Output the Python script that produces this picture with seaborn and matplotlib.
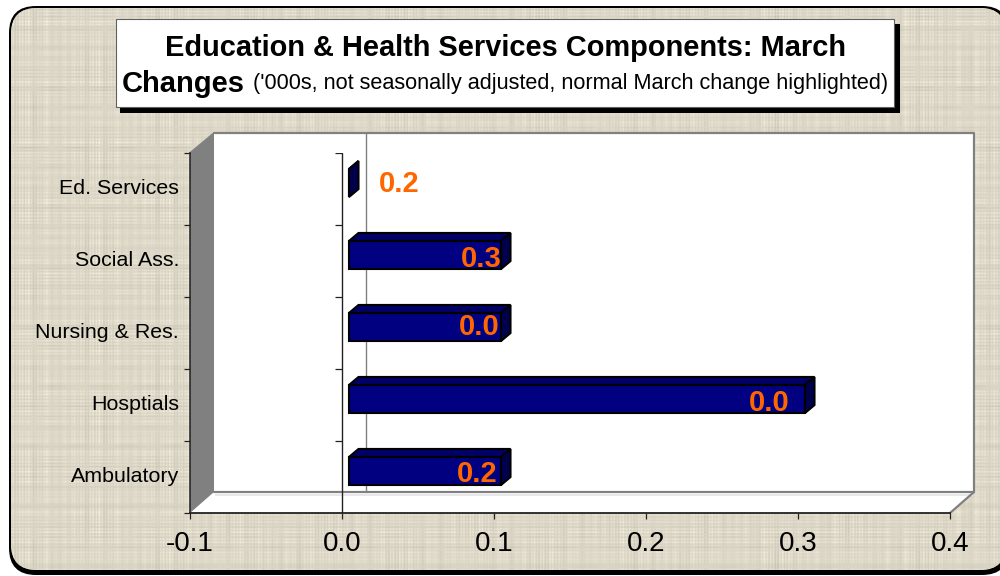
import numpy as np
import pandas as pd
import matplotlib
matplotlib.use('Agg')
import matplotlib.pyplot as plt
from matplotlib.patches import FancyBboxPatch, Polygon, Rectangle
from matplotlib.transforms import IdentityTransform
import seaborn as sns

categories = ['Ed. Services', 'Social Ass.', 'Nursing & Res.', 'Hosptials', 'Ambulatory']
changes = [0.0, 0.1, 0.1, 0.3, 0.1]
bar_labels = ['0.2', '0.3', '0.0', '0.0', '0.2']
x_ticks = [-0.1, 0.0, 0.1, 0.2, 0.3, 0.4]
x_tick_labels = ['-0.1', '0.0', '0.1', '0.2', '0.3', '0.4']

sns.set_theme(style='white')
plt.rcParams['font.family'] = ['Liberation Sans', 'DejaVu Sans']

W, H = 1000, 576
fig = plt.figure(figsize=(W / 100, H / 100), dpi=100, facecolor='white')


def px_axes(left, top, right, bottom, **kw):
    return fig.add_axes([left / W, 1 - bottom / H, (right - left) / W, (bottom - top) / H], **kw)


# background layer, in pixels
bg = fig.add_axes([0, 0, 1, 1], zorder=0)
bg.set_xlim(0, W)
bg.set_ylim(H, 0)
bg.axis('off')

# burlap cloth
xx = np.arange(W)
yy = np.arange(H)
warp = (np.sin(xx * 2.05) * (0.6 + 0.4 * np.sin(xx * 0.083)) + 0.5 * np.sin(xx * 0.71)
        + 0.6 * np.sin(xx * 0.31) * np.sin(xx * 0.047))
weft = (np.sin(yy * 1.87) * (0.6 + 0.4 * np.sin(yy * 0.097)) + 0.5 * np.sin(yy * 0.63)
        + 0.6 * np.sin(yy * 0.37) * np.sin(yy * 0.053))
X, Y = np.meshgrid(warp, weft)
patch_a = np.sin(xx * 0.05)[None, :] * np.sin(yy * 0.07)[:, None]
patch_b = np.sin(xx * 0.13 + 1)[None, :] * np.sin(yy * 0.17 + 2)[:, None]
shade = 217 + 7 * X * (0.8 + 0.4 * patch_a) + 7 * Y * (0.8 - 0.4 * patch_b) + 4 * X * Y * (0.6 + 0.5 * patch_b)
cloth = np.clip(np.dstack([shade + 5, shade - 1, shade - 17]), 0, 255).astype(np.uint8)

# frame is a filled black shape with the cloth laid on top
bg.add_patch(FancyBboxPatch((9, 6), 1000, 569, boxstyle='round,pad=0,rounding_size=27',
                            fc='black', ec='none', zorder=1))
frame = FancyBboxPatch((11, 8), 995, 562, boxstyle='round,pad=0,rounding_size=26',
                       fc='#ddd5c0', ec='none', zorder=1.5)
bg.add_patch(frame)
img = bg.imshow(cloth, extent=(0, W, H, 0), aspect='auto', zorder=2, interpolation='nearest')
img.set_clip_path(frame)
bg.set_xlim(0, W)
bg.set_ylim(H, 0)

# title box
bg.add_patch(Rectangle((120, 24), 780, 89, fc='black', ec='none', zorder=4))
bg.add_patch(Rectangle((116, 19), 778, 88, fc='white', ec='#606060', lw=0.8, zorder=5))
bg.text(505.5, 47.5, 'Education & Health Services Components: March', ha='center', va='center',
        fontsize=20.9, fontweight='bold', color='black', zorder=6)
bg.text(122, 83.5, 'Changes', ha='left', va='center', fontsize=21, fontweight='bold',
        color='black', zorder=6)
bg.text(253, 83, "('000s, not seasonally adjusted, normal March change highlighted)",
        ha='left', va='center', fontsize=15.6, color='black', zorder=6)

# 3d box of the plot area
bg.add_patch(Polygon([(214, 133), (974, 133), (974, 492), (950, 513), (190, 513), (190, 153)],
                     fc='white', ec='none', zorder=4))
bg.add_patch(Polygon([(190, 153), (214, 133), (214, 492), (190, 513)], fc='#808080', ec='none', zorder=4))
bg.plot([214, 974, 974, 214], [133, 133, 492, 492], color='#808080', lw=1.6, zorder=5)
bg.plot([974, 950], [492, 513], color='#808080', lw=1.6, zorder=5)
bg.plot([190, 214], [153, 133], color='#808080', lw=1.2, zorder=5)
bg.plot([216, 972], [494.5, 494.5], color='#e8e8e8', lw=1.5, zorder=4)
bg.plot([366, 366], [133, 492], color='#808080', lw=1.0, zorder=5)

# axes with ticks
ax = px_axes(190, 153, 950, 513, zorder=1, facecolor='none')
ax.set_xlim(x_ticks[0], x_ticks[-1])
ax.set_ylim(len(categories) - 0.5, -0.5)
ax.set_xticks(x_ticks, labels=x_tick_labels)
ax.set_yticks(range(len(categories)), labels=categories)
ax.set_yticks(np.arange(len(categories) + 1) - 0.5, minor=True)
ax.tick_params(axis='x', length=4.3, width=0.9, color='#222222', labelsize=20, labelcolor='black', pad=9, bottom=True)
ax.tick_params(axis='y', which='major', length=0, labelsize=15.4, labelcolor='black', pad=8)
ax.tick_params(axis='y', which='minor', length=4.3, width=0.9, color='#222222', left=True)
for lab in ax.get_yticklabels():
    lab.set_verticalalignment('center')
for s in ['top', 'right']:
    ax.spines[s].set_visible(False)
ax.spines['left'].set_linewidth(1.1)
ax.spines['left'].set_color('#222222')
ax.spines['bottom'].set_linewidth(1.3)
ax.spines['bottom'].set_color('#222222')
ax.axvline(0, color='#222222', lw=1.0)
ax.hlines(np.arange(len(categories) + 1) - 0.5, -0.0046, 0, color='#222222', lw=0.9)

# bars sit a few pixels inside the depth of the box
bar_ax = px_axes(197, 147, 957, 507, zorder=2, facecolor='none')
df = pd.DataFrame({'category': categories, 'change': changes})
sns.barplot(data=df, x='change', y='category', ax=bar_ax, color='#000080', saturation=1,
            width=0.39, edgecolor='black', linewidth=1.5)
bar_ax.set_xlim(x_ticks[0], x_ticks[-1])
bar_ax.set_ylim(len(categories) - 0.5, -0.5)
bar_ax.axis('off')

# top and side faces of the bars, from the bars themselves
depth_x, depth_y = 9.5, 8
fig.canvas.draw()
for i, bar in enumerate(list(bar_ax.patches)):
    x0, x1 = bar.get_x(), bar.get_x() + bar.get_width()
    y0, y1 = bar.get_y(), bar.get_y() + bar.get_height()
    (l, b), (r, t) = bar_ax.transData.transform([(x0, max(y0, y1)), (x1, min(y0, y1))])
    top = [(l, t), (r, t), (r + depth_x, t + depth_y), (l + depth_x, t + depth_y)]
    side = [(r, b), (r + depth_x, b + depth_y), (r + depth_x, t + depth_y), (r, t)]
    bar_ax.add_patch(Polygon(top, fc='#000066', ec='black', lw=1.5, transform=IdentityTransform(), zorder=3))
    bar_ax.add_patch(Polygon(side, fc='#00004d', ec='black', lw=1.5, transform=IdentityTransform(), zorder=3))

# value labels, in pixel offsets from the bar end
label_dx = [71, 1, -1, -15, -3]
label_dy = [1, 4, 0, 4, 3]
for i, bar in enumerate(list(bar_ax.patches)[:len(categories)]):
    end = bar.get_x() + bar.get_width()
    mid = bar.get_y() + bar.get_height() / 2
    bar_ax.annotate(bar_labels[i], (end, mid), xytext=(label_dx[i] / 100 * 72, -label_dy[i] / 100 * 72),
                    textcoords='offset points', ha='right', va='center', fontsize=21,
                    fontweight='bold', color='#FF6600', zorder=5)

fig.savefig('out.png', dpi=100)
